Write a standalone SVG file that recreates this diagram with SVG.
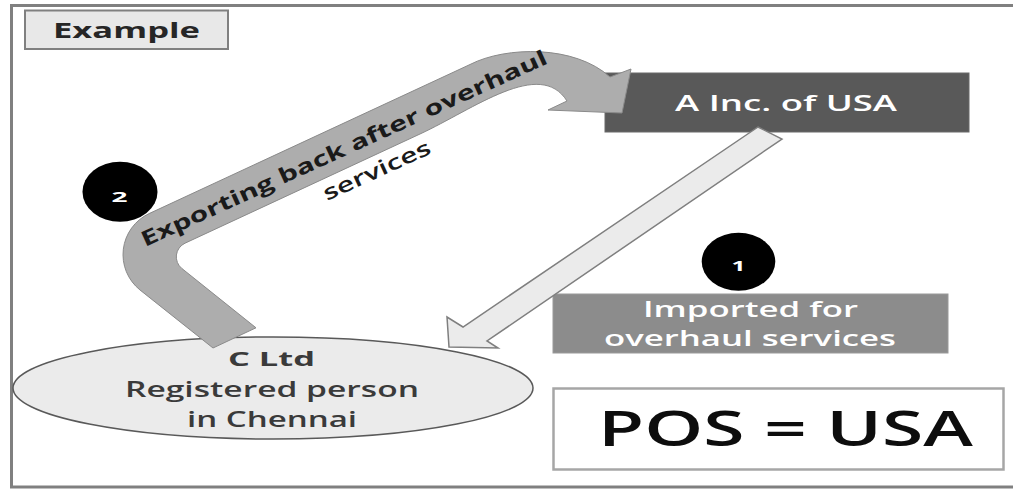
<svg xmlns="http://www.w3.org/2000/svg" width="1013" height="490" viewBox="0 0 1013 490">
<style>
.t{font-family:"Open Sans","Liberation Sans",sans-serif;text-anchor:middle}
.b{font-weight:bold}
.m{font-weight:600}
.w{fill:#ffffff}
.d{fill:#3a3a3a}
.badge{fill:#000000}
</style>
<rect x="0" y="0" width="1013" height="490" fill="#ffffff"/>
<rect x="11.5" y="5.5" width="1010" height="481.5" fill="none" stroke="#808080" stroke-width="3"/>
<g id="example">
<rect x="25" y="10.5" width="203" height="38.5" fill="#e8e8e8" stroke="#808080" stroke-width="2"/>
<text class="t b" x="126.5" y="37.5" font-size="21" fill="#262626" textLength="147" lengthAdjust="spacingAndGlyphs">Example</text>
</g>
<g id="c-ltd">
<ellipse cx="273" cy="388" rx="260" ry="51" fill="#ebebeb" stroke="#595959" stroke-width="1.5"/>
<text class="t b d" x="271.5" y="366" font-size="20" textLength="87" lengthAdjust="spacingAndGlyphs">C Ltd</text>
<text class="t m d" x="272" y="397" font-size="22" textLength="294" lengthAdjust="spacingAndGlyphs">Registered person</text>
<text class="t m d" x="272" y="427" font-size="22" textLength="170" lengthAdjust="spacingAndGlyphs">in Chennai</text>
</g>
<g id="a-inc">
<rect x="605" y="73" width="364" height="59" fill="#595959" stroke="#6a6a6a" stroke-width="1"/>
<text class="t m w" x="786" y="110.5" font-size="22" textLength="222" lengthAdjust="spacingAndGlyphs">A Inc. of USA</text>
</g>
<g id="imported">
<rect x="553" y="294" width="395" height="59" fill="#8c8c8c" stroke="#9a9a9a" stroke-width="1"/>
<text class="t m w" x="750.5" y="316.5" font-size="22" textLength="215" lengthAdjust="spacingAndGlyphs">Imported for</text>
<text class="t m w" x="750" y="345.5" font-size="22" textLength="292" lengthAdjust="spacingAndGlyphs">overhaul services</text>
</g>
<g id="badge-1">
<ellipse class="badge" cx="738.5" cy="261.7" rx="36.8" ry="29"/>
<text class="t b w" x="738.5" y="270.5" font-size="14" textLength="14" lengthAdjust="spacingAndGlyphs">1</text>
</g>
<g id="badge-2">
<ellipse class="badge" cx="120" cy="191.7" rx="37.5" ry="30"/>
<text class="t b w" x="119.5" y="201.5" font-size="15" textLength="16" lengthAdjust="spacingAndGlyphs">2</text>
</g>
<g id="pos">
<rect x="553.5" y="388.5" width="450" height="81" fill="#ffffff" stroke="#a6a6a6" stroke-width="2.5"/>
<text class="t m" x="785.5" y="446" font-size="48" fill="#0d0d0d" textLength="375" lengthAdjust="spacingAndGlyphs">POS = USA</text>
</g>
<g id="connectors">
<path id="export-arrow" d="M213,348 L139.9,289.9 A45.3,45.3 0 0 1 149.1,213.6 L470,64.5 C506,46 575,45 610,77 L631,69 L622,113 L548,110 L567,101 C540,58 474,109 420,134 L185,243.2 A15,15 0 0 0 181.9,268.5 L256,327.8 Z" fill="#adadad" stroke="#8a8a8a" stroke-width="1"/>
<path id="import-arrow" d="M758,127 L782,139 L487,341 L498,348 L449,347 L447,317 L463,327 Z" fill="#ebebeb" stroke="#7f7f7f" stroke-width="1.5" stroke-linejoin="miter"/>
<text class="b" font-family="Open Sans, Liberation Sans, sans-serif" x="145" y="247" font-size="21" fill="#1a1a1a" textLength="444" lengthAdjust="spacingAndGlyphs" transform="rotate(-24.5 145 247)">Exporting back after overhaul</text>
<text class="m" font-family="Open Sans, Liberation Sans, sans-serif" x="327" y="201" font-size="21" fill="#1a1a1a" textLength="116" lengthAdjust="spacingAndGlyphs" transform="rotate(-24.5 327 201)">services</text>
</g>
</svg>
